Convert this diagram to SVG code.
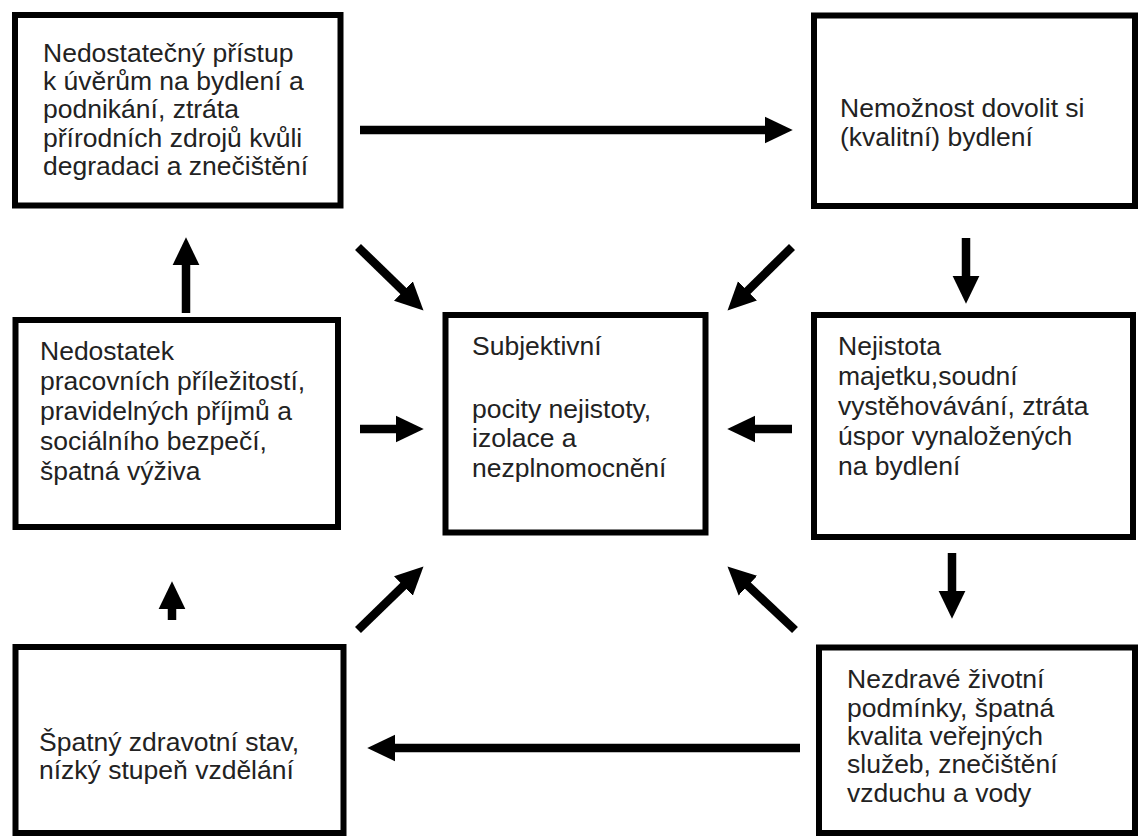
<svg xmlns="http://www.w3.org/2000/svg" width="1138" height="836" viewBox="0 0 1138 836">
<style>
.box{fill:#fff;stroke:#000;stroke-width:6}
.t{font-family:"Liberation Sans",Arial,sans-serif;font-size:26.5px;fill:#222}
.a{stroke:#000;stroke-width:8.5;fill:none;marker-end:url(#ah)}
</style>
<defs>
<marker id="ah" markerUnits="userSpaceOnUse" markerWidth="28" markerHeight="28" viewBox="0 0 27 26" refX="7" refY="13" orient="auto">
<path d="M0,0 L27,13 L0,26 z" fill="#000"/>
</marker>
</defs>
<rect width="1138" height="836" fill="#fff"/>
<g id="n1">
<rect class="box" x="15" y="15" width="325.5" height="190.5"/>
<text class="t" x="43"><tspan x="43" y="62">Nedostatečný přístup</tspan><tspan x="43" y="90">k úvěrům na bydlení a</tspan><tspan x="43" y="118">podnikání,  ztráta</tspan><tspan x="43" y="147">přírodních zdrojů kvůli</tspan><tspan x="43" y="175">degradaci a znečištění</tspan></text>
</g>
<g id="n2">
<rect class="box" x="814" y="15.5" width="321" height="190.5"/>
<text class="t"><tspan x="840" y="117">Nemožnost dovolit si</tspan><tspan x="840" y="146">(kvalitní) bydlení</tspan></text>
</g>
<g id="n3">
<rect class="box" x="15.5" y="320" width="322.5" height="207"/>
<text class="t"><tspan x="40" y="360">Nedostatek</tspan><tspan x="40" y="390">pracovních příležitostí,</tspan><tspan x="40" y="420">pravidelných příjmů a</tspan><tspan x="40" y="450">sociálního bezpečí,</tspan><tspan x="40" y="480">špatná výživa</tspan></text>
</g>
<g id="nc">
<rect class="box" x="445.5" y="315" width="260" height="217.5"/>
<text class="t"><tspan x="472" y="355">Subjektivní</tspan><tspan x="472" y="418">pocity nejistoty,</tspan><tspan x="472" y="447">izolace a</tspan><tspan x="472" y="477">nezplnomocnění</tspan></text>
</g>
<g id="n5">
<rect class="box" x="814" y="315" width="319" height="222"/>
<text class="t"><tspan x="838" y="355">Nejistota</tspan><tspan x="838" y="385">majetku,soudní</tspan><tspan x="838" y="415">vystěhovávání, ztráta</tspan><tspan x="838" y="445">úspor vynaložených</tspan><tspan x="838" y="475">na bydlení</tspan></text>
</g>
<g id="n4">
<rect class="box" x="15.5" y="647" width="328" height="186"/>
<text class="t"><tspan x="39" y="751">Špatný zdravotní stav,</tspan><tspan x="39" y="779">nízký stupeň vzdělání</tspan></text>
</g>
<g id="n6">
<rect class="box" x="819" y="647.5" width="316" height="185.5"/>
<text class="t"><tspan x="847" y="688">Nezdravé životní</tspan><tspan x="847" y="717">podmínky, špatná</tspan><tspan x="847" y="745">kvalita veřejných</tspan><tspan x="847" y="773">služeb, znečištění</tspan><tspan x="847" y="802">vzduchu a vody</tspan></text>
</g>
<g id="connectors">
<line class="a" x1="360" y1="130" x2="772" y2="130"/>
<line class="a" x1="966" y1="238" x2="966" y2="283"/>
<line class="a" x1="952" y1="553" x2="952" y2="598"/>
<line class="a" x1="800" y1="748" x2="388" y2="748"/>
<line class="a" x1="172" y1="620" x2="172" y2="602"/>
<line class="a" x1="186" y1="313" x2="186" y2="258"/>
<line class="a" x1="358" y1="247" x2="408.6" y2="296.1"/>
<line class="a" x1="792" y1="247" x2="742.3" y2="296"/>
<line class="a" x1="358" y1="630" x2="408.6" y2="580.9"/>
<line class="a" x1="795" y1="630" x2="742.6" y2="580.7"/>
<line class="a" x1="360" y1="429" x2="403" y2="429"/>
<line class="a" x1="792" y1="429" x2="748" y2="429"/>
</g>
</svg>
